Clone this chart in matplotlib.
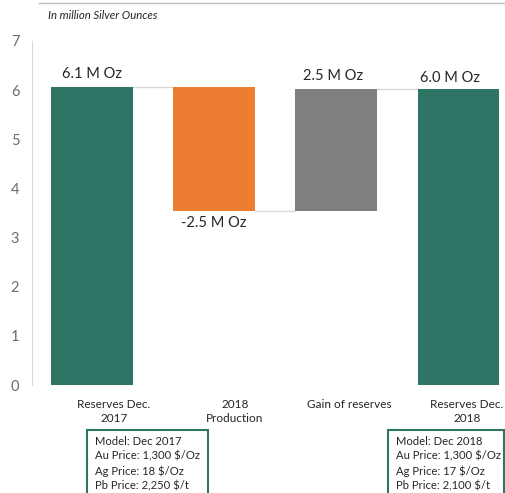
import matplotlib.pyplot as plt
from matplotlib.lines import Line2D

categories = ['Reserves Dec.\n2017', '2018\nProduction', 'Gain of reserves', 'Reserves Dec.\n2018']
changes = [6.06, -2.51, 2.48]          # start, production, gain (M Oz)
value_labels = ['6.1 M Oz', '-2.5 M Oz', '2.5 M Oz', '6.0 M Oz']
box_2017 = ['Model: Dec 2017', 'Au Price: 1,300 $/Oz', 'Ag Price: 18 $/Oz', 'Pb Price: 2,250 $/t']
box_2018 = ['Model: Dec 2018', 'Au Price: 1,300 $/Oz', 'Ag Price: 17 $/Oz', 'Pb Price: 2,100 $/t']

GREEN = '#2E7566'
ORANGE = '#ED7D31'
GREY = '#7F7F7F'
plt.rcParams['font.family'] = ['Lato', 'DejaVu Sans']

# waterfall bottoms / heights
end_value = sum(changes)
starts = [0, changes[0], changes[0] + changes[1], 0]
heights = [changes[0], changes[1], changes[2], end_value]
colors = [GREEN, ORANGE, GREY, GREEN]

fig = plt.figure(figsize=(5.05, 4.93), dpi=100)
ax = fig.add_axes([0.063, 0.219, 0.937, 0.698])
x = list(range(len(categories)))
ax.bar(x, heights, bottom=starts, width=0.67, color=colors, zorder=3)

# connector lines
for i in range(3):
    level = starts[i] + heights[i]
    ax.plot([i + 0.335, i + 1 - 0.335], [level, level], color='#D9D9D9', lw=1, zorder=2)

ax.set_xlim(-0.49, 3.38)
ax.set_ylim(0, 7)
ax.set_yticks(range(0, 8))
ax.tick_params(axis='y', length=0, labelsize=10.5, labelcolor='#6b6b6b', pad=9)
ax.set_xticks([])
for s in ['top', 'right', 'bottom']:
    ax.spines[s].set_visible(False)
ax.spines['left'].set_color('#D9D9D9')

# value labels
ax.text(0, heights[0] + 0.12, value_labels[0], ha='center', va='bottom', fontsize=10.5, color='#262626')
ax.text(1, starts[2] - 0.12, value_labels[1], ha='center', va='top', fontsize=10.5, color='#262626')
ax.text(2 - 0.03, end_value + 0.12, value_labels[2], ha='center', va='bottom', fontsize=10.5, color='#262626')
ax.text(3 - 0.07, end_value + 0.08, value_labels[3], ha='center', va='bottom', fontsize=10.5, color='#262626')

# category labels
label_offsets = [0.18, 0.17, 0.11, 0.07]
for i, lab in enumerate(categories):
    ax.text(i + label_offsets[i], -0.28, lab, ha='center', va='top', fontsize=8.5,
            color='#262626', linespacing=1.4)

fig.text(0.095, 0.968, 'In million Silver Ounces', fontsize=8.2, style='italic',
         color='#262626', ha='left', va='center')
fig.add_artist(Line2D([0.077, 1.0], [0.994, 0.994], color='#BFBFBF', lw=1))

# assumption boxes
for x0, x1, lines in [(87, 208, box_2017), (388, 504, box_2018)]:
    fig.add_artist(plt.Rectangle((x0 / 505, -0.05), (x1 - x0) / 505, 1 - 430 / 493 + 0.05,
                                 fill=False, edgecolor=GREEN, lw=1.5))
    fig.text((x0 + 8) / 505, 1 - 436 / 493, '\n'.join(lines), ha='left', va='top',
             fontsize=8.1, color='#262626', linespacing=1.38)

fig.savefig('out.png', dpi=100)
